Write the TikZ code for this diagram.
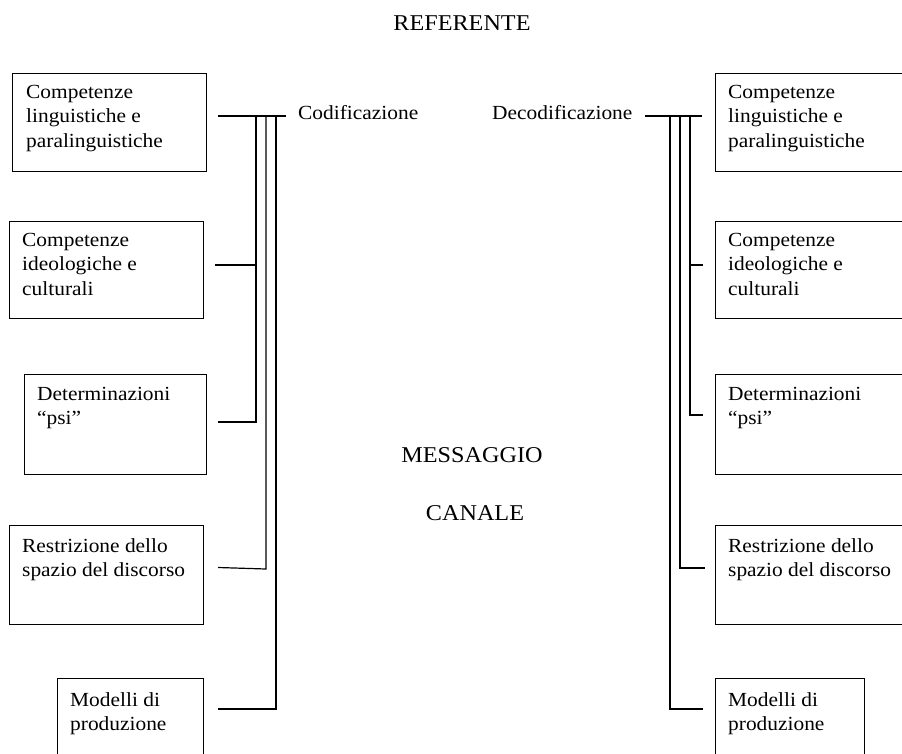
\documentclass[tikz,border=0pt]{standalone}
\usepackage{fontspec}
\setmainfont[FakeStretch=1.07]{Liberation Serif}
\usepackage{tikz}
\usetikzlibrary{positioning}
\tikzstyle{box} = [draw, line width=1.2pt, inner sep=0pt, anchor=north west]
\tikzstyle{txt} = [anchor=north west, inner sep=0pt, align=left, font=\fontsize{20}{24.5}\selectfont]
\tikzstyle{title} = [anchor=base, inner sep=0pt, font=\fontsize{22.6}{26}\selectfont]
\tikzstyle{conn} = [line width=1.2pt]

\begin{document}
\begin{tikzpicture}[x=1pt, y=-1pt]
    \useasboundingbox (0,0) rectangle (902,753);
    \clip (0,0) rectangle (902,753);
    % titles
    \node[title] (ref) at (462,30) {REFERENTE};
    \node[title] (msg) at (472,462) {MESSAGGIO};
    \node[title] (can) at (475,520) {CANALE};
    \node[txt, anchor=base west] (cod) at (298,119) {Codificazione};
    \node[txt, anchor=base west] (dec) at (492,119) {Decodificazione};
    % left boxes
        \node[box, minimum width=194, minimum height=98] (l1) at (12,73) {};
        \node[box, minimum width=194, minimum height=97] (l2) at (9,221) {};
        \node[box, minimum width=182, minimum height=100] (l3) at (24,374) {};
        \node[box, minimum width=194, minimum height=99] (l4) at (9,525) {};
        \node[box, minimum width=146, minimum height=110] (l5) at (57,678) {};
        \node[txt] (tl1) at ([shift={(14,12)}]l1.north west) {Competenze\\linguistiche e\\paralinguistiche};
        \node[txt] (tl2) at ([shift={(13,12)}]l2.north west) {Competenze\\ideologiche e\\culturali};
        \node[txt] (tl3) at ([shift={(13,13)}]l3.north west) {Determinazioni\\“psi”};
        \node[txt] (tl4) at ([shift={(13,13)}]l4.north west) {Restrizione dello\\spazio del discorso};
        \node[txt] (tl5) at ([shift={(13,14)}]l5.north west) {Modelli di\\produzione};
    % right boxes
        \node[box, minimum width=200, minimum height=98] (r1) at (715,73) {};
        \node[box, minimum width=200, minimum height=97] (r2) at (715,221) {};
        \node[box, minimum width=200, minimum height=100] (r3) at (715,374) {};
        \node[box, minimum width=200, minimum height=99] (r4) at (715,525) {};
        \node[box, minimum width=149, minimum height=110] (r5) at (715,678) {};
        \node[txt] (tr1) at ([shift={(13,12)}]r1.north west) {Competenze\\linguistiche e\\paralinguistiche};
        \node[txt] (tr2) at ([shift={(13,12)}]r2.north west) {Competenze\\ideologiche e\\culturali};
        \node[txt] (tr3) at ([shift={(13,13)}]r3.north west) {Determinazioni\\“psi”};
        \node[txt] (tr4) at ([shift={(13,13)}]r4.north west) {Restrizione dello\\spazio del discorso};
        \node[txt] (tr5) at ([shift={(13,14)}]r5.north west) {Modelli di\\produzione};
    % left connectors
    \coordinate (l1c) at ([shift={(11,43)}]l1.north east);
    \coordinate (l2c) at ([shift={(11,44)}]l2.north east);
    \coordinate (l3c) at ([shift={(11,48)}]l3.north east);
    \coordinate (l4c) at ([shift={(14,42.5)}]l4.north east);
    \coordinate (l5c) at ([shift={(14,31)}]l5.north east);
    \coordinate (lend) at ([xshift=-12]cod.base west |- l1c);
    \draw[conn] (l1c) -- (lend);
    \coordinate (lbA) at (256,116);
    \coordinate (lbB) at (266,116);
    \coordinate (lbC) at (276,116);
    \draw[conn] (lbA) |- (l3c);
    \draw[conn] (l2c) -- (lbA |- l2c);
    \draw[conn] (lbB) -- (266,569) -- (l4c);
    \draw[conn] (lbC) |- (l5c);
    % right connectors
    \coordinate (r1c) at ([shift={(-13,43)}]r1.north west);
    \coordinate (r2c) at ([shift={(-12,44)}]r2.north west);
    \coordinate (r3c) at ([shift={(-12,41)}]r3.north west);
    \coordinate (r4c) at ([shift={(-10,43)}]r4.north west);
    \coordinate (r5c) at ([shift={(-12,31)}]r5.north west);
    \coordinate (rend) at (645,116);
    \draw[conn] (rend) -- (r1c);
    \coordinate (rbA) at (690,116);
    \coordinate (rbB) at (680,116);
    \coordinate (rbC) at (670,116);
    \draw[conn] (rbA) |- (r3c);
    \draw[conn] (rbA |- r2c) -- (r2c);
    \draw[conn] (rbB) |- (r4c);
    \draw[conn] (rbC) |- (r5c);
\end{tikzpicture}
\end{document}
